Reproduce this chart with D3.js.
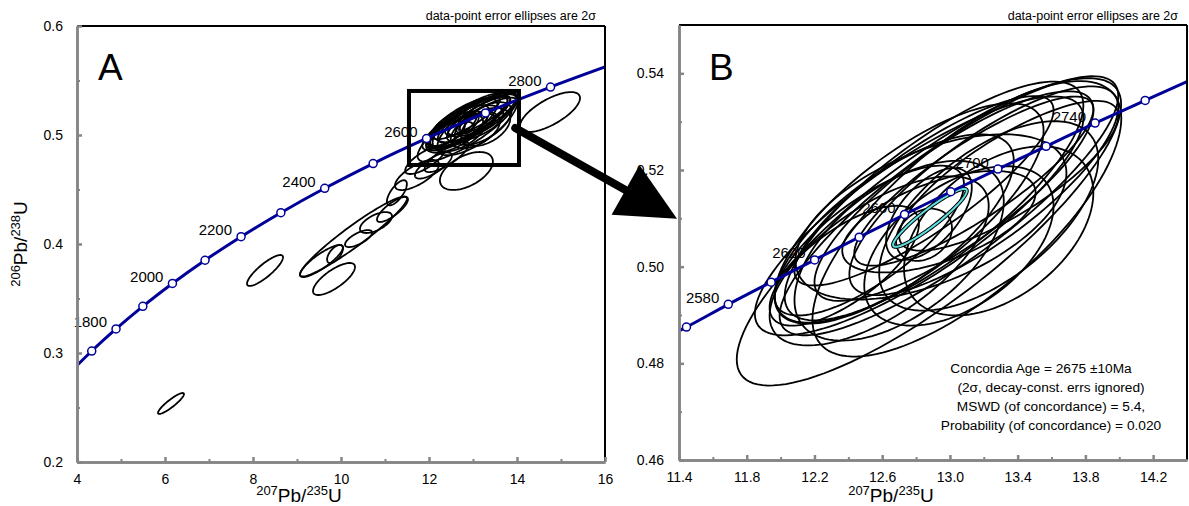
<!DOCTYPE html>
<html lang="en">
<head>
<meta charset="UTF-8">
<title>Concordia diagram</title>
<script src="https://d3js.org/d3.v7.min.js"></script>
<style>
  body { margin: 0; background: #fff; }
  svg { font-family: "Liberation Sans", Arial, sans-serif; }
  .axis path, .axis line { stroke: #858585; stroke-width: 2.5; }
  .axis .minor line { stroke-width: 2; }
  .axis text { fill: #000; font-size: 14px; }
  .frame { stroke: #000; stroke-width: 2; }
  .ellipse { fill: none; stroke: #000; stroke-width: 1.8; }
  .concordia { fill: none; stroke: #000099; stroke-width: 3; }
  .marker { fill: #fff; stroke: #000099; stroke-width: 1.5; }
  .agelabel { font-size: 15px; fill: #000; }
</style>
</head>
<body>
<script>
// concordia markers, panel A (every 100 Ma)
const agesA = [1700, 1800, 1900, 2000, 2100, 2200, 2300, 2400, 2500, 2600, 2700, 2800];
const u235A = [4.335, 4.887, 5.496, 6.169, 6.910, 7.729, 8.633, 9.630, 10.730, 11.944, 13.283, 14.762];
const u238A = [0.3018, 0.3221, 0.3428, 0.3638, 0.3851, 0.4067, 0.4287, 0.4511, 0.4738, 0.4968, 0.5202, 0.5440];
const labelAgesA = [1800, 2000, 2200, 2400, 2600, 2800];
const curveEndsA = [[4.0, 0.2885], [16.0, 0.5624]];

// concordia markers, panel B (every 20 Ma)
const agesB = [2560, 2580, 2600, 2620, 2640, 2660, 2680, 2700, 2720, 2740, 2760];
const u235B = [11.444, 11.691, 11.944, 12.201, 12.464, 12.732, 13.005, 13.283, 13.568, 13.857, 14.153];
const u238B = [0.4875, 0.4922, 0.4968, 0.5014, 0.5061, 0.5108, 0.5155, 0.5202, 0.5249, 0.5297, 0.5344];
const labelAgesB = [2580, 2620, 2660, 2700, 2740];
const curveEndsB = [[11.4, 0.4867], [14.4, 0.5383]];

// error ellipses: [207Pb/235U, 206Pb/238U, half-width, half-height, rho]
const ellipsesCluster = [
  [12.876, 0.5072, 1.135, 0.0318, 0.83],
  [13.100, 0.5099, 0.912, 0.0285, 0.73],
  [12.906, 0.5136, 0.882, 0.0247, 0.80],
  [13.024, 0.5146, 0.824, 0.0217, 0.82],
  [12.759, 0.5111, 0.794, 0.0227, 0.75],
  [12.847, 0.5157, 0.765, 0.0196, 0.85],
  [13.141, 0.5177, 0.706, 0.0175, 0.85],
  [12.671, 0.5078, 0.706, 0.0196, 0.72],
  [12.888, 0.5103, 0.800, 0.0171, 0.53],
  [12.935, 0.5093, 0.571, 0.0105, 0.57],
  [12.700, 0.5033, 0.618, 0.0186, 0.55],
  [13.053, 0.5043, 0.559, 0.0165, 0.50],
  [12.524, 0.5054, 0.559, 0.0155, 0.75],
  [13.229, 0.5105, 0.647, 0.0196, 0.60],
  [12.876, 0.5109, 0.253, 0.0095, 0.58],
  [12.847, 0.5066, 0.165, 0.0054, 0.25],
  [12.376, 0.5002, 0.441, 0.0124, 0.70],
  [13.347, 0.5188, 0.647, 0.0155, 0.80],
  [12.994, 0.5126, 1.000, 0.0268, 0.85],
  [12.818, 0.5105, 0.970, 0.0247, 0.82],
  [13.200, 0.5157, 0.794, 0.0216, 0.80],
  [12.582, 0.5012, 0.647, 0.0175, 0.65],
  [13.288, 0.5074, 0.559, 0.0175, 0.45]
];
const ellipsesOnlyA = [
  [6.136, 0.2537, 0.295, 0.0096, 0.90],
  [8.273, 0.3757, 0.409, 0.0142, 0.85],
  [9.841, 0.3679, 0.477, 0.0147, 0.75],
  [9.557, 0.3844, 0.489, 0.0147, 0.85],
  [9.864, 0.3908, 0.180, 0.0083, 0.60],
  [10.398, 0.4050, 0.307, 0.0078, 0.70],
  [10.284, 0.4069, 1.216, 0.0367, 0.95],
  [10.795, 0.4197, 0.364, 0.0096, 0.60],
  [11.170, 0.4317, 0.352, 0.0115, 0.80],
  [11.270, 0.4470, 0.227, 0.0115, 0.70],
  [12.850, 0.4670, 0.602, 0.0174, 0.50],
  [14.750, 0.5211, 0.682, 0.0183, 0.70],
  [11.727, 0.4633, 0.500, 0.0138, 0.70],
  [11.909, 0.4770, 0.450, 0.0128, 0.75],
  [12.400, 0.4800, 0.500, 0.0140, 0.80],
  [12.100, 0.4720, 0.420, 0.0120, 0.75]
];
// concordia age ellipse
const ageEllipse = [12.882, 0.5101, 0.2176, 0.0060, 0.93];

const xTicksA = [4, 6, 8, 10, 12, 14, 16];
const yTicksA = [0.2, 0.3, 0.4, 0.5, 0.6];
const xTicksB = [11.4, 11.8, 12.2, 12.6, 13.0, 13.4, 13.8, 14.2];
const yTicksB = [0.46, 0.48, 0.50, 0.52, 0.54];
const zoomBox = [11.545, 14.045, 0.4725, 0.5404];
const statsLines = [
  "Concordia Age = 2675 \u00b110Ma",
  "(2\u03c3, decay-const. errs ignored)",
  "MSWD (of concordance) = 5.4,",
  "Probability (of concordance) = 0.020"
];

const width = 1189, height = 506;
const svg = d3.select("body").append("svg")
  .attr("width", width).attr("height", height);

function ellipsePoints(e) {
  const [cx, cy, rx, ry, rho] = e;
  const s = Math.sqrt(1 - rho * rho);
  return d3.range(0, 121).map(i => {
    const t = i / 120 * 2 * Math.PI;
    return [cx + rx * Math.cos(t), cy + ry * (rho * Math.cos(t) + s * Math.sin(t))];
  });
}

function panel(opt) {
  const x = d3.scaleLinear().domain(opt.xDomain).range(opt.xRange);
  const y = d3.scaleLinear().domain(opt.yDomain).range(opt.yRange);
  const g = svg.append("g");
  const clipId = "clip" + opt.name;
  svg.append("clipPath").attr("id", clipId).append("rect")
    .attr("x", opt.xRange[0]).attr("y", opt.yRange[1])
    .attr("width", opt.xRange[1] - opt.xRange[0])
    .attr("height", opt.yRange[0] - opt.yRange[1]);
  const plot = g.append("g").attr("clip-path", `url(#${clipId})`);

  const line = d3.line().x(d => x(d[0])).y(d => y(d[1]));

  // ellipses
  plot.selectAll("path.ellipse")
    .data(opt.ellipses)
    .join("path")
    .attr("class", "ellipse")
    .attr("d", d => line.curve(d3.curveLinearClosed)(ellipsePoints(d)));

  if (opt.ageEllipse) {
    const d = line.curve(d3.curveLinearClosed)(ellipsePoints(opt.ageEllipse));
    plot.append("path").attr("d", d).attr("fill", "none")
      .attr("stroke", "#000").attr("stroke-width", 4);
    plot.append("path").attr("d", d).attr("fill", "none")
      .attr("stroke", "#5fe0e0").attr("stroke-width", 2);
  }

  // concordia curve
  const pts = opt.ages.map((a, i) => [opt.u235[i], opt.u238[i], a]);
  const curvePts = [opt.ends[0], ...pts, opt.ends[1]];
  plot.append("path")
    .attr("class", "concordia")
    .attr("d", line.curve(d3.curveMonotoneX)(curvePts));
  plot.selectAll("circle.marker")
    .data(pts)
    .join("circle")
    .attr("class", "marker")
    .attr("cx", d => x(d[0])).attr("cy", d => y(d[1])).attr("r", 4);
  g.selectAll("text.agelabel")
    .data(pts.filter(d => opt.labelAges.includes(d[2])))
    .join("text")
    .attr("class", "agelabel")
    .attr("text-anchor", "end")
    .attr("x", d => x(d[0]) - 9)
    .attr("y", d => y(d[1]) - 1.5)
    .text(d => d[2]);

  // frame (top/right black)
  g.append("line").attr("class", "frame")
    .attr("x1", opt.xRange[0]).attr("x2", opt.xRange[1])
    .attr("y1", opt.yRange[1]).attr("y2", opt.yRange[1]);
  g.append("line").attr("class", "frame")
    .attr("x1", opt.xRange[1]).attr("x2", opt.xRange[1])
    .attr("y1", opt.yRange[1]).attr("y2", opt.yRange[0]);

  // axes
  const bottom = g.append("g").attr("class", "axis")
    .attr("transform", `translate(0,${opt.yRange[0]})`);
  bottom.append("g").attr("class", "minor")
    .call(d3.axisBottom(x).tickValues(opt.xMinor).tickFormat("").tickSize(-3).tickSizeOuter(0));
  bottom.append("g")
    .call(d3.axisBottom(x).tickValues(opt.xTicks).tickFormat(opt.xFormat).tickSize(-5).tickSizeOuter(0).tickPadding(12));
  const left = g.append("g").attr("class", "axis")
    .attr("transform", `translate(${opt.xRange[0]},0)`);
  left.append("g").attr("class", "minor")
    .call(d3.axisLeft(y).tickValues(opt.yMinor).tickFormat("").tickSize(-3).tickSizeOuter(0));
  left.append("g")
    .call(d3.axisLeft(y).tickValues(opt.yTicks).tickFormat(opt.yFormat).tickSize(-5).tickSizeOuter(0).tickPadding(opt.yPad));
  g.selectAll(".axis .domain").attr("stroke-width", 2.5);

  // note
  g.append("text")
    .attr("x", opt.xRange[1] - 9).attr("y", 20)
    .attr("text-anchor", "end")
    .attr("font-size", 12.5)
    .text("data-point error ellipses are 2\u03c3");

  // panel letter
  g.append("text")
    .attr("x", opt.letterX).attr("y", 80)
    .attr("font-size", 37)
    .text(opt.name);

  // x title
  const xt = g.append("text")
    .attr("x", opt.xTitleX).attr("y", 502)
    .attr("text-anchor", "middle")
    .attr("font-size", 19);
  xt.append("tspan").attr("font-size", 13).attr("dy", -7).text("207");
  xt.append("tspan").attr("dy", 7).text("Pb/");
  xt.append("tspan").attr("font-size", 13).attr("dy", -7).text("235");
  xt.append("tspan").attr("dy", 7).text("U");

  return { x, y, g };
}

const fmt2 = d3.format(".1f");
const A = panel({
  name: "A",
  xDomain: [4, 16], xRange: [77, 605],
  yDomain: [0.2, 0.6], yRange: [462, 26],
  xTicks: xTicksA, xMinor: d3.range(5, 16, 2), xFormat: d3.format("d"),
  yTicks: yTicksA, yMinor: [0.25, 0.35, 0.45, 0.55], yFormat: fmt2, yPad: 14,
  ellipses: ellipsesOnlyA.concat(ellipsesCluster),
  ageEllipse: null,
  ages: agesA, u235: u235A, u238: u238A, labelAges: labelAgesA, ends: curveEndsA,
  letterX: 98, xTitleX: 299
});
const B = panel({
  name: "B",
  xDomain: [11.4, 14.4], xRange: [679, 1187],
  yDomain: [0.46, 0.55], yRange: [460, 25],
  xTicks: xTicksB, xMinor: [11.6, 12.0, 12.4, 12.8, 13.2, 13.6, 14.0], xFormat: d3.format(".1f"),
  yTicks: yTicksB, yMinor: [0.47, 0.49, 0.51, 0.53], yFormat: d3.format(".2f"), yPad: 15,
  ellipses: ellipsesCluster,
  ageEllipse: ageEllipse,
  ages: agesB, u235: u235B, u238: u238B, labelAges: labelAgesB, ends: curveEndsB,
  letterX: 709, xTitleX: 891
});

// y title (panel A only)
const yt = svg.append("text")
  .attr("transform", "translate(27,244) rotate(-90)")
  .attr("text-anchor", "middle")
  .attr("font-size", 19);
yt.append("tspan").attr("font-size", 13).attr("dy", -7).text("206");
yt.append("tspan").attr("dy", 7).text("Pb/");
yt.append("tspan").attr("font-size", 13).attr("dy", -7).text("238");
yt.append("tspan").attr("dy", 7).text("U");

// zoom box in A
svg.append("rect")
  .attr("x", A.x(zoomBox[0])).attr("y", A.y(zoomBox[3]))
  .attr("width", A.x(zoomBox[1]) - A.x(zoomBox[0]))
  .attr("height", A.y(zoomBox[2]) - A.y(zoomBox[3]))
  .attr("fill", "none").attr("stroke", "#000").attr("stroke-width", 4);

// arrow from box to panel B
const p0 = [A.x(13.96), A.y(0.5064)];
const tip = [B.x(11.4) - 2, B.y(0.5099)];
const dx = tip[0] - p0[0], dy = tip[1] - p0[1];
const len = Math.hypot(dx, dy), ux = dx / len, uy = dy / len;
const headLen = 59, headHalf = 28.5;
const base = [tip[0] - ux * headLen, tip[1] - uy * headLen];
svg.append("line")
  .attr("x1", p0[0]).attr("y1", p0[1])
  .attr("x2", base[0] + ux * 4).attr("y2", base[1] + uy * 4)
  .attr("stroke", "#000").attr("stroke-width", 8).attr("stroke-linecap", "round");
svg.append("path")
  .attr("d", d3.line()([
    [base[0] - uy * headHalf, base[1] + ux * headHalf],
    tip,
    [base[0] + uy * headHalf, base[1] - ux * headHalf]
  ]) + "Z")
  .attr("fill", "#000");

// stats text in B
svg.append("g").selectAll("text")
  .data(statsLines)
  .join("text")
  .attr("x", (d, i) => i === 0 ? 1041 : 1051)
  .attr("y", (d, i) => 373 + i * 19)
  .attr("text-anchor", "middle")
  .attr("font-size", 13.7)
  .text(d => d);
</script>
</body>
</html>
